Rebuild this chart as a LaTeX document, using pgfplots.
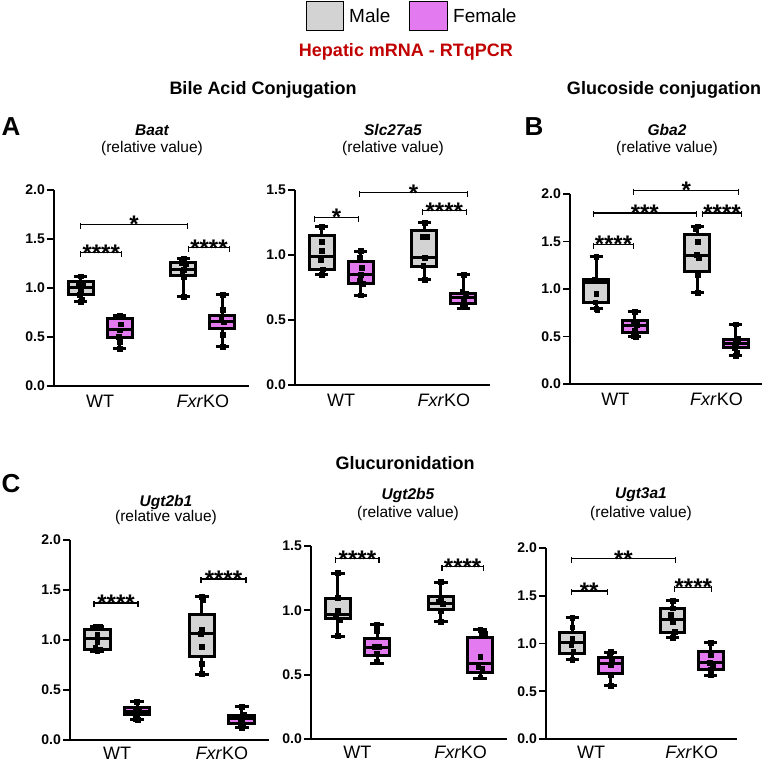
\documentclass[border=0pt]{standalone}
\usepackage{fontspec}
\setmainfont{Liberation Sans}
\usepackage{pgfplots}
\pgfplotsset{compat=1.18}
\usepgfplotslibrary{statistics}
\usetikzlibrary{calc}

\definecolor{mgray}{HTML}{D3D3D3}
\definecolor{fpink}{HTML}{E47AF0}
\definecolor{hred}{HTML}{C00000}

\pgfplotsset{
  panel/.style={
    scale only axis, clip=false,
    axis x line=bottom, axis y line=left,
    axis line style={-, line width=2.2pt},
    every outer x axis line/.append style={-},
    every outer y axis line/.append style={-},
    xmin=0.55, xmax=2.45, ymin=0,
    xtick={1,2}, xticklabels={WT,\textit{Fxr}KO},
    xtick style={draw=none},
    tick align=outside, major tick length=7pt,
    ytick style={line width=1.8pt, black},
    xticklabel style={font=\fontsize{18}{18}\selectfont, inner sep=1pt, yshift=-1pt},
    yticklabel style={font=\fontsize{14}{14}\selectfont\bfseries, inner sep=2pt,
      /pgf/number format/.cd, fixed, fixed zerofill, precision=1, assume math mode=true},
    boxplot/draw direction=y,
  },
  lowrow/.style={xticklabel style={yshift=2.5pt}},
  box/.style={draw=black, line width=3pt, fill=#1, solid},
  dots/.style={only marks, mark=square*, mark size=2.4pt, black},
}

% position, fill, lower whisker, q1, median, q3, upper whisker
\newcommand{\bx}[7]{%
  \addplot[box=#2, boxplot prepared={draw position=#1, lower whisker=#3,
    lower quartile=#4, median=#5, upper quartile=#6, upper whisker=#7,
    box extend=0.245, whisker extend=0.13}] coordinates {};
}
% x1, x2, y, stars
\newcommand{\sig}[4]{%
  \draw[line width=1.2pt] (axis cs:#1,#3) -- (axis cs:#2,#3);
  \draw[line width=1.2pt] ([yshift=1.5pt]axis cs:#1,#3) -- ([yshift=-4.5pt]axis cs:#1,#3);
  \draw[line width=1.2pt] ([yshift=1.5pt]axis cs:#2,#3) -- ([yshift=-4.5pt]axis cs:#2,#3);
  \node[font=\fontsize{24}{24}\selectfont\bfseries, anchor=base, yshift=-8.5pt, inner sep=0pt]
    at ($(axis cs:#1,#3)!0.5!(axis cs:#2,#3)$) {#4};
}

\begin{document}
\begin{tikzpicture}[x=1pt,y=1pt]
\path[use as bounding box] (0,0) rectangle (772,764);

% legend and headings
\draw[line width=1pt, fill=mgray] (306,733) rectangle (343,762);
\node[anchor=west, inner sep=0pt, font=\fontsize{19}{19}\selectfont] at (349,748) {Male};
\draw[line width=1pt, fill=fpink] (409,733) rectangle (447,762);
\node[anchor=west, inner sep=0pt, font=\fontsize{19}{19}\selectfont] at (453,748) {Female};
\node[font=\fontsize{18}{18}\selectfont\bfseries, text=hred] at (406,712) {Hepatic mRNA - RTqPCR};
\node[font=\fontsize{18}{18}\selectfont\bfseries] at (263,674) {Bile Acid Conjugation};
\node[font=\fontsize{18}{18}\selectfont\bfseries] at (664,674) {Glucoside conjugation};
\node[font=\fontsize{18}{18}\selectfont\bfseries] at (405,301) {Glucuronidation};
\node[font=\fontsize{26}{26}\selectfont\bfseries] at (11,637) {A};
\node[font=\fontsize{26}{26}\selectfont\bfseries] at (534,637) {B};
\node[font=\fontsize{26}{26}\selectfont\bfseries] at (11,280) {C};

\node[font=\fontsize{15.5}{16}\selectfont\bfseries\itshape] at (152,634) {Baat};
\node[font=\fontsize{15.5}{16}\selectfont] at (152,616) {(relative value)};
\node[font=\fontsize{15.5}{16}\selectfont\bfseries\itshape] at (393,634) {Slc27a5};
\node[font=\fontsize{15.5}{16}\selectfont] at (393,616) {(relative value)};
\node[font=\fontsize{15.5}{16}\selectfont\bfseries\itshape] at (667,634) {Gba2};
\node[font=\fontsize{15.5}{16}\selectfont] at (667,616) {(relative value)};
\node[font=\fontsize{15.5}{16}\selectfont\bfseries\itshape] at (166,262) {Ugt2b1};
\node[font=\fontsize{15.5}{16}\selectfont] at (166,247) {(relative value)};
\node[font=\fontsize{15.5}{16}\selectfont\bfseries\itshape] at (408,269) {Ugt2b5};
\node[font=\fontsize{15.5}{16}\selectfont] at (408,251) {(relative value)};
\node[font=\fontsize{15.5}{16}\selectfont\bfseries\itshape] at (641,269) {Ugt3a1};
\node[font=\fontsize{15.5}{16}\selectfont] at (641,251) {(relative value)};

% Baat
\begin{axis}[panel, at={(54pt,378pt)}, anchor=south west, width=195pt, height=196pt,
  ymax=2, ytick={0,0.5,1,1.5,2}]
\bx{0.81}{mgray}{0.86}{0.93}{1.01}{1.07}{1.12}
\bx{1.19}{fpink}{0.38}{0.49}{0.58}{0.69}{0.72}
\bx{1.81}{mgray}{0.91}{1.13}{1.19}{1.26}{1.30}
\bx{2.19}{fpink}{0.40}{0.59}{0.66}{0.72}{0.93}
\addplot[dots] coordinates {(0.81,1.12) (0.79,1.05) (0.83,1.05) (0.81,0.98) (0.80,0.93) (0.82,0.88) (0.81,0.86)};
\addplot[dots] coordinates {(1.19,0.72) (1.20,0.63) (1.19,0.57) (1.18,0.50) (1.19,0.45) (1.19,0.38)};
\addplot[dots] coordinates {(1.81,1.30) (1.79,1.26) (1.83,1.25) (1.81,1.19) (1.80,1.15) (1.81,1.11) (1.81,0.91)};
\addplot[dots] coordinates {(2.19,0.93) (2.19,0.78) (2.18,0.69) (2.20,0.65) (2.19,0.52) (2.19,0.40)};
\sig{0.81}{1.85}{1.65}{*}
\sig{0.81}{1.21}{1.36}{****}
\sig{1.86}{2.26}{1.41}{****}
\end{axis}

% Slc27a5
\begin{axis}[panel, at={(295pt,379pt)}, anchor=south west, width=195pt, height=195pt,
  ymax=1.5, ytick={0,0.5,1,1.5}]
\bx{0.81}{mgray}{0.85}{0.885}{0.99}{1.15}{1.22}
\bx{1.19}{fpink}{0.69}{0.78}{0.85}{0.95}{1.03}
\bx{1.81}{mgray}{0.81}{0.91}{0.98}{1.19}{1.25}
\bx{2.19}{fpink}{0.59}{0.63}{0.67}{0.70}{0.85}
\addplot[dots] coordinates {(0.81,1.22) (0.81,1.10) (0.81,1.03) (0.80,0.96) (0.82,0.89) (0.81,0.85)};
\addplot[dots] coordinates {(1.19,1.03) (1.18,0.98) (1.20,0.90) (1.19,0.85) (1.18,0.80) (1.21,0.78) (1.19,0.69)};
\addplot[dots] coordinates {(1.81,1.25) (1.79,1.14) (1.83,1.14) (1.81,0.98) (1.80,0.92) (1.81,0.81)};
\addplot[dots] coordinates {(2.19,0.85) (2.18,0.72) (2.21,0.70) (2.19,0.66) (2.18,0.60) (2.20,0.60)};
\sig{0.74}{1.17}{1.29}{*}
\sig{1.18}{2.23}{1.48}{*}
\sig{1.79}{2.22}{1.34}{****}
\end{axis}

% Gba2
\begin{axis}[panel, at={(570pt,380pt)}, anchor=south west, width=192pt, height=190pt,
  ymax=2, ytick={0,0.5,1,1.5,2}]
\bx{0.81}{mgray}{0.79}{0.855}{1.07}{1.10}{1.34}
\bx{1.19}{fpink}{0.50}{0.54}{0.62}{0.67}{0.76}
\bx{1.81}{mgray}{0.96}{1.18}{1.35}{1.57}{1.66}
\bx{2.19}{fpink}{0.30}{0.38}{0.43}{0.47}{0.63}
\addplot[dots] coordinates {(0.81,1.34) (0.79,1.10) (0.83,1.09) (0.81,0.95) (0.80,0.86) (0.81,0.79) (0.82,0.78)};
\addplot[dots] coordinates {(1.19,0.76) (1.18,0.66) (1.21,0.62) (1.19,0.56) (1.18,0.51) (1.20,0.50)};
\addplot[dots] coordinates {(1.81,1.66) (1.79,1.63) (1.81,1.50) (1.80,1.36) (1.82,1.33) (1.81,1.15) (1.81,0.96)};
\addplot[dots] coordinates {(2.19,0.63) (2.21,0.48) (2.19,0.42) (2.18,0.38) (2.20,0.33) (2.19,0.30)};
\sig{0.78}{1.18}{1.47}{****}
\sig{0.78}{1.80}{1.80}{***}
\sig{1.86}{2.25}{1.80}{****}
\sig{1.18}{2.22}{2.04}{*}
\end{axis}

% Ugt2b1
\begin{axis}[panel, lowrow, at={(70pt,24pt)}, anchor=south west, width=199pt, height=200pt,
  ymax=2, ytick={0,0.5,1,1.5,2}]
\bx{0.81}{mgray}{0.88}{0.90}{1.01}{1.10}{1.13}
\bx{1.19}{fpink}{0.20}{0.25}{0.28}{0.32}{0.38}
\bx{1.81}{mgray}{0.65}{0.83}{1.06}{1.25}{1.43}
\bx{2.19}{fpink}{0.12}{0.16}{0.21}{0.24}{0.33}
\addplot[dots] coordinates {(0.79,1.13) (0.83,1.13) (0.81,1.05) (0.81,0.98) (0.79,0.92) (0.83,0.90) (0.81,0.89)};
\addplot[dots] coordinates {(1.19,0.38) (1.18,0.30) (1.21,0.28) (1.19,0.26) (1.18,0.21) (1.20,0.20)};
\addplot[dots] coordinates {(1.81,1.43) (1.82,1.40) (1.81,1.10) (1.80,1.06) (1.81,0.93) (1.81,0.76) (1.81,0.66)};
\addplot[dots] coordinates {(2.19,0.33) (2.21,0.25) (2.19,0.21) (2.18,0.17) (2.20,0.14) (2.19,0.12)};
\sig{0.78}{1.20}{1.37}{****}
\sig{1.80}{2.23}{1.61}{****}
\end{axis}

% Ugt2b5
\begin{axis}[panel, lowrow, at={(311pt,25pt)}, anchor=south west, width=196pt, height=193pt,
  ymax=1.5, ytick={0,0.5,1,1.5}]
\bx{0.81}{mgray}{0.80}{0.94}{0.97}{1.09}{1.29}
\bx{1.19}{fpink}{0.59}{0.65}{0.71}{0.78}{0.89}
\bx{1.81}{mgray}{0.91}{1.01}{1.05}{1.11}{1.22}
\bx{2.19}{fpink}{0.47}{0.52}{0.59}{0.79}{0.85}
\addplot[dots] coordinates {(0.81,1.29) (0.81,1.10) (0.81,1.00) (0.79,0.95) (0.83,0.93) (0.81,0.80)};
\addplot[dots] coordinates {(1.19,0.89) (1.19,0.84) (1.17,0.72) (1.21,0.72) (1.19,0.66) (1.19,0.60)};
\addplot[dots] coordinates {(1.81,1.22) (1.81,1.10) (1.79,1.07) (1.83,1.05) (1.81,1.00) (1.81,0.91)};
\addplot[dots] coordinates {(2.19,0.85) (2.23,0.82) (2.19,0.64) (2.17,0.56) (2.21,0.55) (2.19,0.48)};
\sig{0.79}{1.21}{1.40}{****}
\sig{1.82}{2.22}{1.34}{****}
\end{axis}

% Ugt3a1
\begin{axis}[panel, lowrow, at={(546pt,25pt)}, anchor=south west, width=191pt, height=191pt,
  ymax=2, ytick={0,0.5,1,1.5,2}]
\bx{0.81}{mgray}{0.83}{0.90}{1.01}{1.11}{1.27}
\bx{1.19}{fpink}{0.56}{0.69}{0.79}{0.85}{0.91}
\bx{1.81}{mgray}{1.06}{1.11}{1.25}{1.37}{1.45}
\bx{2.19}{fpink}{0.66}{0.73}{0.80}{0.92}{1.01}
\addplot[dots] coordinates {(0.81,1.27) (0.81,1.17) (0.81,1.05) (0.80,0.99) (0.82,0.92) (0.81,0.83)};
\addplot[dots] coordinates {(1.19,0.91) (1.18,0.87) (1.20,0.84) (1.19,0.78) (1.19,0.67) (1.19,0.56)};
\addplot[dots] coordinates {(1.81,1.45) (1.81,1.37) (1.79,1.30) (1.81,1.23) (1.83,1.12) (1.81,1.06)};
\addplot[dots] coordinates {(2.19,1.01) (2.19,0.88) (2.18,0.80) (2.21,0.78) (2.19,0.73) (2.19,0.67)};
\sig{0.80}{1.84}{1.89}{**}
\sig{0.80}{1.16}{1.55}{**}
\sig{1.83}{2.20}{1.59}{****}
\end{axis}
\end{tikzpicture}
\end{document}
